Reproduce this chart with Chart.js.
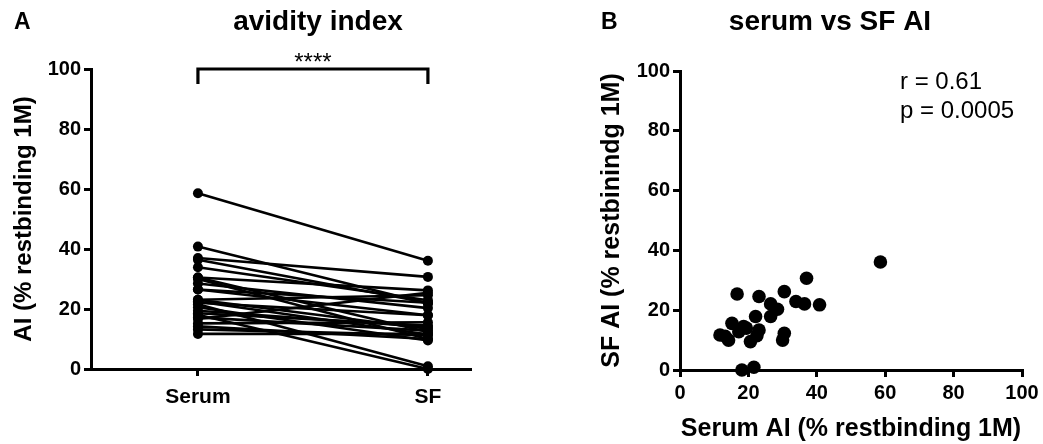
<!DOCTYPE html>
<html>
<head>
<meta charset="utf-8">
<script src="https://cdn.jsdelivr.net/npm/chart.js@4"></script>
<style>
  html, body { margin: 0; padding: 0; background: #fff; }
  .panel { position: absolute; top: 0; height: 444px; }
  #boxA { left: 0; width: 520px; }
  #boxB { left: 520px; width: 523px; }
</style>
</head>
<body>
<div class="panel" id="boxA"><canvas id="chartA"></canvas></div>
<div class="panel" id="boxB"><canvas id="chartB"></canvas></div>
<script>
const categories = ["Serum", "SF"];
const serumAI = [58.6, 40.8, 37.0, 36.4, 33.9, 30.5, 30.5, 30.0, 28.5, 26.5, 26.5, 23.1, 23.1, 22.1, 21.6, 20.6, 18.6, 18.1, 17.2, 16.7, 15.2, 14.2, 11.7, 13.2, 19.4, 22.5];
const sfAI    = [36.1, 21.8, 30.7, 22.1, 22.9, 26.2, 12.3, 10.0, 20.3, 22.1, 17.9, 24.6, 13.4, 17.9, 0.9, 9.5, 14.5, 0.0, 12.8, 25.4, 15.6, 10.0, 11.7, 11.3, 14.0, 11.5];
const yTicks = [0, 20, 40, 60, 80, 100];
const statR = "r = 0.61";
const statP = "p = 0.0005";
const sigStars = "****";

const FONT = "'Liberation Sans', Arial, Helvetica, sans-serif";
Chart.defaults.font.family = FONT;
Chart.defaults.color = "#000";

function axisBase() {
    return {
        grid: { display: true, drawOnChartArea: false, drawTicks: true, tickLength: 7, color: "#000", lineWidth: 3 },
        border: { display: true, color: "#000", width: 3 },
        ticks: { color: "#000", font: { size: 20, weight: "bold" } }
    };
}

// panel A: paired lines
const pairSets = serumAI.map((s, i) => ({
    data: [{ x: 0, y: s }, { x: 1, y: sfAI[i] }],
    borderColor: "#000",
    backgroundColor: "#000",
    borderWidth: 2.6,
    pointRadius: 5,
    pointBorderWidth: 0,
    clip: false
}));

const yA = axisBase();
yA.min = 0; yA.max = 100;
yA.ticks.stepSize = 20; yA.ticks.padding = 3;
yA.afterBuildTicks = s => { s.ticks = yTicks.map(v => ({ value: v })); };
yA.title = { display: true, text: "AI (% restbinding 1M)", color: "#000", font: { size: 24, weight: "bold" }, padding: { top: 10, bottom: 0 } };
yA.afterFit = s => { s.width = 91; };

const xA = axisBase();
xA.type = "linear";
xA.min = -0.465; xA.max = 1.183;
xA.afterBuildTicks = s => { s.ticks = categories.map((c, i) => ({ value: i })); };
xA.ticks.callback = v => categories[v];
xA.ticks.font = { size: 21, weight: "bold" };
xA.ticks.padding = 9;
xA.afterFit = s => { s.height = 75; };

const textA = {
    id: "textA",
    afterDraw(chart) {
        const c = chart.ctx;
        const x0 = chart.scales.x.getPixelForValue(0);
        const x1 = chart.scales.x.getPixelForValue(1);
        c.save();
        c.fillStyle = "#000";
        c.textBaseline = "middle";
        c.font = "bold 23px " + FONT;
        c.textAlign = "left";
        c.fillText("A", 14, 23);
        c.textAlign = "center";
        c.font = "bold 28px " + FONT;
        c.fillText("avidity index", 318, 22);
        c.font = "24px " + FONT;
        c.fillText(sigStars, (x0 + x1) / 2, 63);
        c.strokeStyle = "#000";
        c.lineWidth = 3.2;
        c.beginPath();
        c.moveTo(x0, 84);
        c.lineTo(x0, 69);
        c.lineTo(x1, 69);
        c.lineTo(x1, 84);
        c.stroke();
        c.restore();
    }
};

new Chart(document.getElementById("chartA"), {
    type: "line",
    data: { datasets: pairSets },
    options: {
        responsive: true,
        maintainAspectRatio: false,
        animation: false,
        layout: { padding: { top: 69, right: 50, bottom: 0, left: 0 } },
        plugins: { legend: { display: false }, tooltip: { enabled: false } },
        scales: { x: xA, y: yA }
    },
    plugins: [textA]
});

// panel B: scatter
const scatterPts = serumAI.map((s, i) => ({ x: s, y: sfAI[i] }));

const xB = axisBase();
xB.min = 0; xB.max = 100;
xB.ticks.stepSize = 20; xB.ticks.padding = 4;
xB.title = { display: true, text: "Serum AI (% restbinding 1M)", color: "#000", font: { size: 25, weight: "bold" }, padding: { top: 5, bottom: 0 } };
xB.afterFit = s => { s.height = 74; };

const yB = axisBase();
yB.min = 0; yB.max = 100;
yB.ticks.stepSize = 20; yB.ticks.padding = 3;
yB.title = { display: true, text: "SF AI (% restbinindg 1M)", color: "#000", font: { size: 25, weight: "bold" }, padding: { top: 2, bottom: 0 } };
yB.afterFit = s => { s.width = 85; };

const textB = {
    id: "textB",
    afterDraw(chart) {
        const c = chart.ctx;
        c.save();
        c.fillStyle = "#000";
        c.textBaseline = "middle";
        c.font = "bold 23px " + FONT;
        c.textAlign = "left";
        c.fillText("B", 81, 23);
        c.textAlign = "center";
        c.font = "bold 28px " + FONT;
        c.fillText("serum vs SF AI", 310, 22);
        c.textAlign = "left";
        c.font = "24px " + FONT;
        c.fillText(statR, 380, 82);
        c.fillText(statP, 380, 111);
        c.restore();
    }
};

new Chart(document.getElementById("chartB"), {
    type: "scatter",
    data: {
        datasets: [{
            data: scatterPts,
            backgroundColor: "#000",
            borderColor: "#000",
            pointRadius: 6.8,
            pointBorderWidth: 0,
            clip: false
        }]
    },
    options: {
        responsive: true,
        maintainAspectRatio: false,
        animation: false,
        layout: { padding: { top: 71, right: 21, bottom: 0, left: 75 } },
        plugins: { legend: { display: false }, tooltip: { enabled: false } },
        scales: { x: xB, y: yB }
    },
    plugins: [textB]
});
</script>
</body>
</html>
